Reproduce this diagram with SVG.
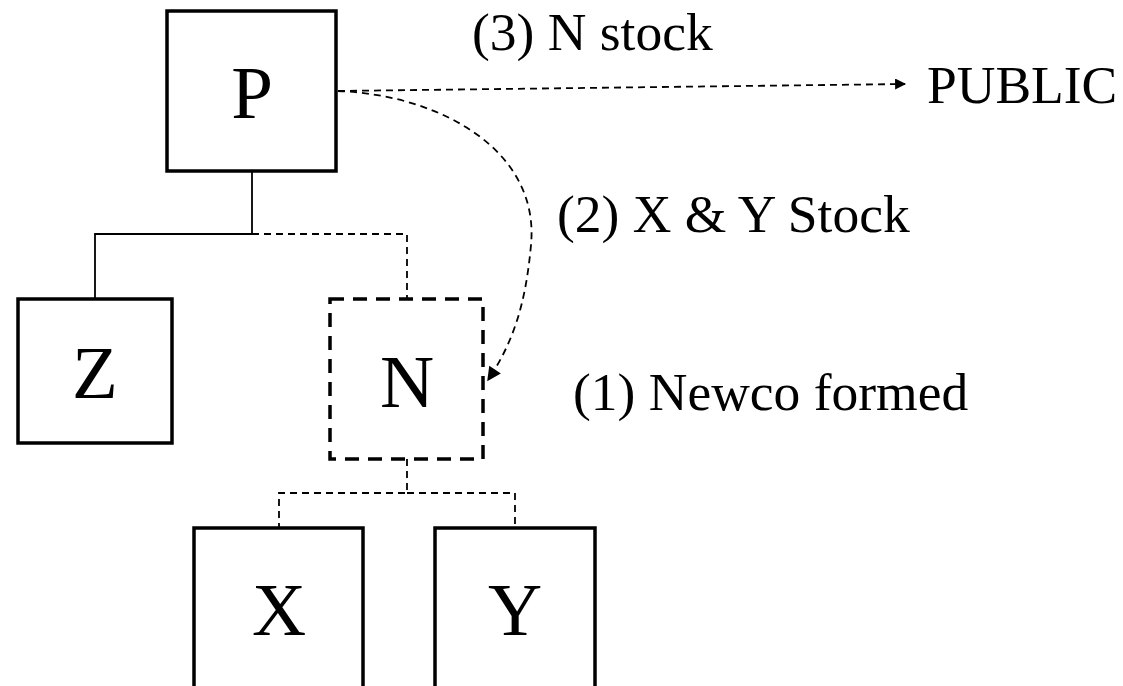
<svg xmlns="http://www.w3.org/2000/svg" width="1123" height="686" viewBox="0 0 1123 686">
<defs>
<style>
.box{fill:#fff;stroke:#000;stroke-width:3.5}
.nbox{fill:#fff;stroke:#000;stroke-width:3.5;stroke-dasharray:14,9}
.ln{fill:none;stroke:#000;stroke-width:1.8}
.dl{fill:none;stroke:#000;stroke-width:1.8;stroke-dasharray:7,5}
.big{font-family:"Liberation Serif",serif;font-size:75px;text-anchor:middle;fill:#000}
.lbl{font-family:"Liberation Serif",serif;font-size:53.5px;fill:#000}
</style>
<marker id="ah" viewBox="0 0 10 10" refX="9" refY="5" markerWidth="14" markerHeight="11" markerUnits="userSpaceOnUse" orient="auto">
<path d="M0,0 L10,5 L0,10 Z" fill="#000"/>
</marker>
<marker id="ah2" viewBox="0 0 10 10" refX="9" refY="5" markerWidth="17" markerHeight="14" markerUnits="userSpaceOnUse" orient="auto">
<path d="M0,0 L10,5 L0,10 Z" fill="#000"/>
</marker>
</defs>
<g id="connectors">
<polyline class="ln" points="252,171 252,234 95,234 95,299"/>
<polyline class="dl" points="252,234 407,234 407,299"/>
<polyline class="dl" points="407,459 407,493 279,493 279,528"/>
<polyline class="dl" points="407,493 515,493 515,528"/>
<path class="dl" d="M338,91 L905,84" marker-end="url(#ah)"/>
<path class="dl" d="M338,91 C440,95 540,150 531,245 C526,300 515,340 488,380" marker-end="url(#ah2)"/>
</g>
<g id="node-P"><rect class="box" x="167" y="11" width="169" height="160"/><text class="big" x="252" y="118">P</text></g>
<g id="node-Z"><rect class="box" x="18" y="299" width="154" height="144"/><text class="big" x="95" y="398">Z</text></g>
<g id="node-N"><rect class="nbox" x="330" y="299" width="153" height="160"/><text class="big" x="407" y="407">N</text></g>
<g id="node-X"><rect class="box" x="194" y="528" width="169" height="200"/><text class="big" x="279" y="635">X</text></g>
<g id="node-Y"><rect class="box" x="435" y="528" width="160" height="200"/><text class="big" x="515" y="635">Y</text></g>
<g id="node-PUBLIC"><text class="lbl" x="927" y="103">PUBLIC</text></g>
<g id="labels">
<text class="lbl" x="472" y="50">(3) N stock</text>
<text class="lbl" x="557" y="232">(2) X &amp; Y Stock</text>
<text class="lbl" x="573" y="410">(1) Newco formed</text>
</g>
</svg>
